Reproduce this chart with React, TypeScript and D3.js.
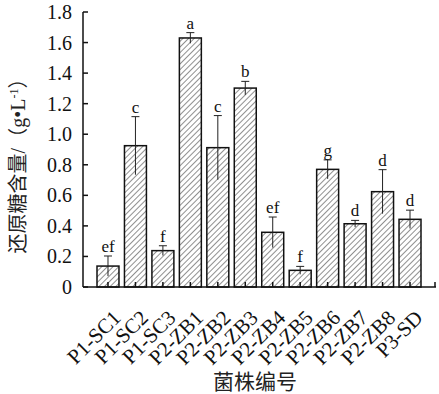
import { useEffect, useRef } from "react";
import * as d3 from "d3";

const strains = [
  "P1-SC1", "P1-SC2", "P1-SC3", "P2-ZB1", "P2-ZB2", "P2-ZB3",
  "P2-ZB4", "P2-ZB5", "P2-ZB6", "P2-ZB7", "P2-ZB8", "P3-SD",
];
const sugar = [0.137, 0.925, 0.238, 1.63, 0.912, 1.302, 0.358, 0.109, 0.77, 0.414, 0.624, 0.443];
const errs = [0.066, 0.19, 0.032, 0.035, 0.21, 0.044, 0.1, 0.026, 0.062, 0.022, 0.144, 0.06];
const letters = ["ef", "c", "f", "a", "c", "b", "ef", "f", "g", "d", "d", "d"];
const yTicks = [0, 0.2, 0.4, 0.6, 0.8, 1.0, 1.2, 1.4, 1.6, 1.8];

const serif = "'Times New Roman', 'Liberation Serif', serif";
const cjk = "'Times New Roman', 'Liberation Serif', 'Noto Sans CJK SC', serif";

export default function App() {
  const ref = useRef<SVGSVGElement | null>(null);

  useEffect(() => {
    if (!ref.current) return;
    const svg = d3.select(ref.current);
    svg.selectAll("*").remove();

    const left = 83;
    const right = 435;
    const top = 12;
    const bottom = 287;

    const x = d3.scaleBand<string>().domain(strains).range([left, right]).paddingInner(0.2).paddingOuter(0.51);
    const y = d3.scaleLinear().domain([0, 1.8]).range([bottom, top]);

    const defs = svg.append("defs");
    const pat = defs
      .append("pattern")
      .attr("id", "hatch")
      .attr("patternUnits", "userSpaceOnUse")
      .attr("width", 4)
      .attr("height", 4)
      .attr("patternTransform", "rotate(45)");
    pat.append("rect").attr("width", 4).attr("height", 4).attr("fill", "#fff");
    pat.append("line").attr("x1", 0).attr("y1", 0).attr("x2", 0).attr("y2", 4)
      .attr("stroke", "#333").attr("stroke-width", 1.1);

    // bars
    svg.selectAll("rect.bar")
      .data(sugar)
      .enter()
      .append("rect")
      .attr("class", "bar")
      .attr("x", (_, i) => x(strains[i])!)
      .attr("y", (d) => y(d))
      .attr("width", x.bandwidth())
      .attr("height", (d) => bottom - y(d))
      .attr("fill", "url(#hatch)")
      .attr("stroke", "#111")
      .attr("stroke-width", 1.5);

    // error bars (upper cap only)
    const eb = svg.append("g").attr("stroke", "#222").attr("stroke-width", 1);
    sugar.forEach((v, i) => {
      const cx = x(strains[i])! + x.bandwidth() / 2;
      eb.append("line").attr("x1", cx).attr("x2", cx).attr("y1", y(v - errs[i])).attr("y2", y(v + errs[i]));
      eb.append("line").attr("x1", cx - 4).attr("x2", cx + 4).attr("y1", y(v + errs[i])).attr("y2", y(v + errs[i]));
    });

    // significance letters
    svg.selectAll("text.sig")
      .data(letters)
      .enter()
      .append("text")
      .attr("class", "sig")
      .attr("x", (_, i) => x(strains[i])! + x.bandwidth() / 2)
      .attr("y", (_, i) => y(sugar[i] + errs[i]) - 4)
      .attr("text-anchor", "middle")
      .attr("font-family", serif)
      .attr("font-size", 17)
      .attr("fill", "#111")
      .text((d) => d);

    // axes
    const ax = svg.append("g").attr("stroke", "#111").attr("stroke-width", 1.5);
    ax.append("line").attr("x1", left).attr("x2", left).attr("y1", top).attr("y2", bottom);
    ax.append("line").attr("x1", left).attr("x2", right + 1).attr("y1", bottom).attr("y2", bottom);
    ax.append("line").attr("x1", right).attr("x2", right).attr("y1", bottom).attr("y2", bottom - 5);
    yTicks.forEach((t) => {
      ax.append("line").attr("x1", left).attr("x2", left + 5).attr("y1", y(t)).attr("y2", y(t));
    });
    strains.forEach((s) => {
      const cx = x(s)! + x.bandwidth() / 2;
      ax.append("line").attr("x1", cx).attr("x2", cx).attr("y1", bottom).attr("y2", bottom - 5);
    });

    svg.selectAll("text.ytick")
      .data(yTicks)
      .enter()
      .append("text")
      .attr("class", "ytick")
      .attr("x", left - 11)
      .attr("y", (d) => y(d) + 7)
      .attr("text-anchor", "end")
      .attr("font-family", serif)
      .attr("font-size", 20)
      .attr("fill", "#111")
      .text((d) => (d === 0 ? "0" : d3.format(".1f")(d)));

    svg.selectAll("text.xtick")
      .data(strains)
      .enter()
      .append("text")
      .attr("class", "xtick")
      .attr("transform", (d) => `translate(${x(d)! + x.bandwidth() / 2 + 14},${bottom + 32}) rotate(-45)`)
      .attr("text-anchor", "end")
      .attr("font-family", serif)
      .attr("font-size", 21)
      .attr("fill", "#111")
      .text((d) => d);

    svg.append("text")
      .attr("x", 255)
      .attr("y", 389)
      .attr("text-anchor", "middle")
      .attr("font-family", cjk)
      .attr("font-size", 21)
      .attr("fill", "#222")
      .text("菌株编号");

    const yl = svg.append("text")
      .attr("transform", "translate(25,161) rotate(-90)")
      .attr("text-anchor", "middle")
      .attr("font-family", cjk)
      .attr("font-size", 20)
      .attr("fill", "#222");
    yl.append("tspan").text("还原糖含量/（g•L");
    yl.append("tspan").attr("font-size", 12).attr("dy", -7).text("-1");
    yl.append("tspan").attr("dy", 7).text("）");
  }, []);

  return (
    <svg
      ref={ref}
      width={439}
      height={394}
      style={{ position: "absolute", left: 0, top: 0, background: "#fff" }}
    />
  );
}
